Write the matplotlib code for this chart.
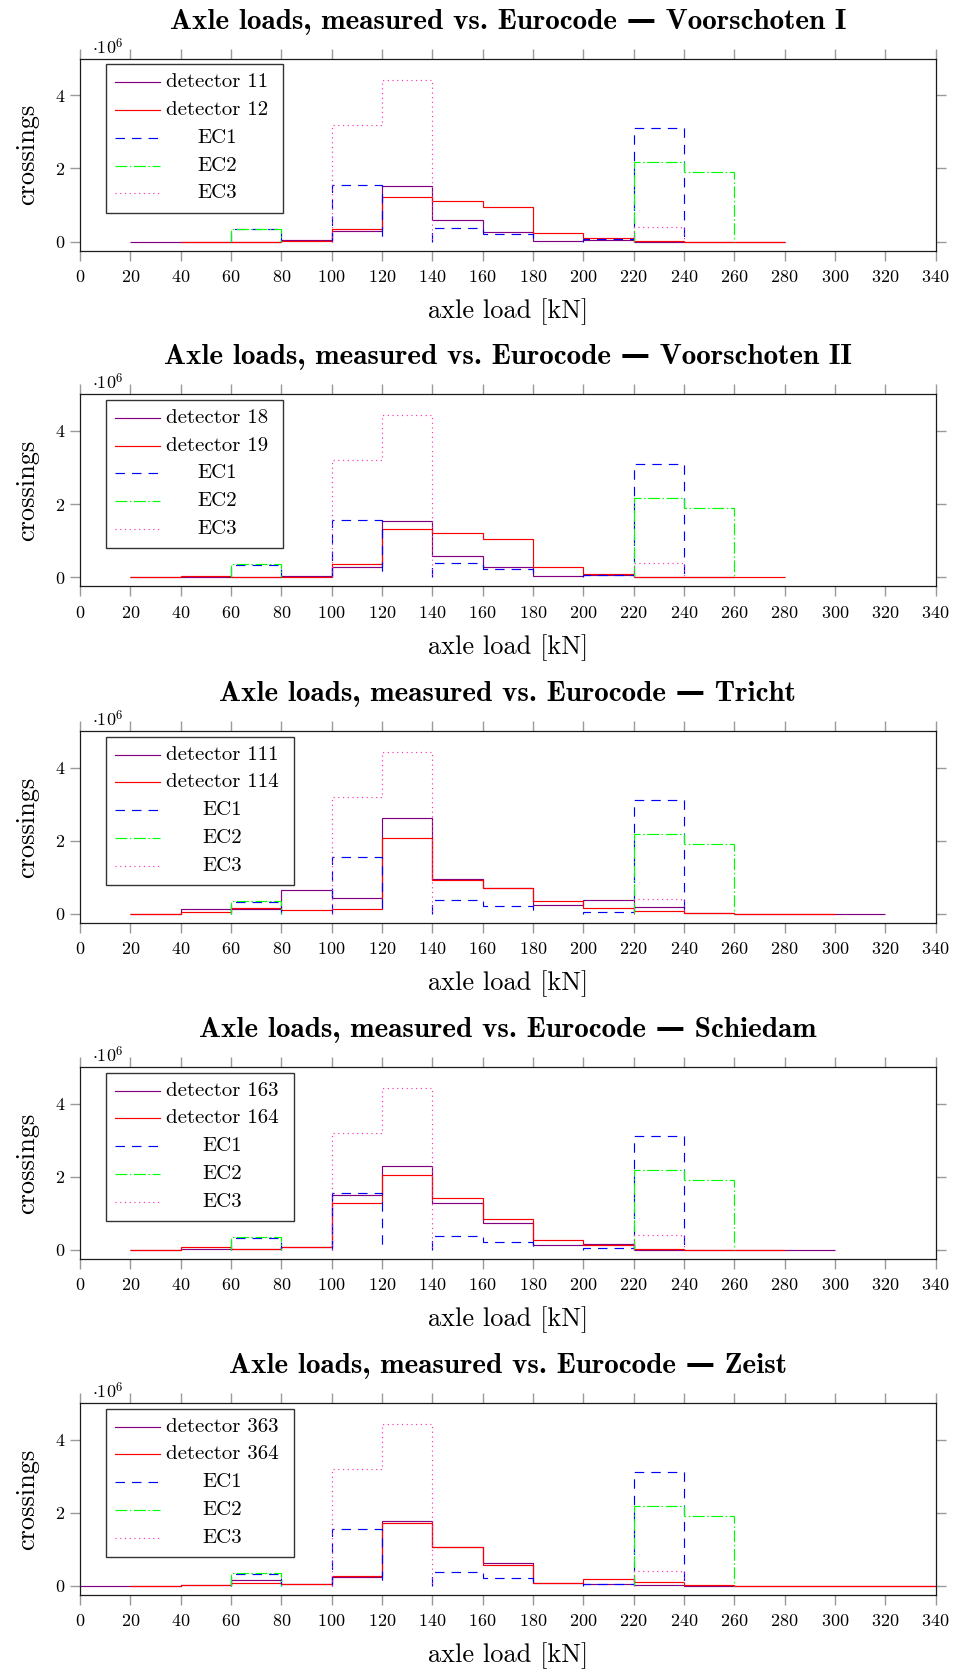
import numpy as np
import matplotlib
matplotlib.use("Agg")
import matplotlib.pyplot as plt
from matplotlib import transforms as mtransforms
from matplotlib.lines import Line2D
from matplotlib.patches import Rectangle

plt.rcParams["font.family"] = ["cmr10", "DejaVu Serif"]
plt.rcParams["mathtext.fontset"] = "cm"
plt.rcParams["axes.formatter.use_mathtext"] = True
plt.rcParams["axes.unicode_minus"] = False

# ---------------------------------------------------------------------------
# Data: crossings per 20 kN axle-load class, in units of 10^6
# ---------------------------------------------------------------------------
CLASS_WIDTH = 20  # kN

# Eurocode load spectra, classes 20-40 ... 240-260 kN
ec_start = 20
ec1 = [0, 0, 0.33, 0, 1.55, 0, 0.38, 0.22, 0, 0.06, 3.10, 0]
ec2 = [0, 0, 0.35, 0, 0, 0, 0, 0, 0, 0, 2.17, 1.90]
ec3 = [0, 0, 0, 0, 3.20, 4.43, 0, 0, 0, 0, 0.40, 0]

# Measured spectra, (first class lower bound in kN, counts)
site_names = ["Voorschoten I", "Voorschoten II", "Tricht", "Schiedam", "Zeist"]

det_labels_a = ["detector 11", "detector 18", "detector 111", "detector 163", "detector 363"]
det_labels_b = ["detector 12", "detector 19", "detector 114", "detector 164", "detector 364"]

det_start_a = [20, 20, 20, 20, 0]
det_start_b = [40, 20, 20, 20, 20]

voorschoten1_a = [0, 0, 0, 0.045, 0.29, 1.53, 0.58, 0.26, 0.02, 0.04, 0.0, 0.0, 0.0]
voorschoten1_b = [0, 0, 0.01, 0.34, 1.22, 1.11, 0.95, 0.23, 0.11, 0.01, 0, 0]
voorschoten2_a = [0, 0.01, 0, 0.04, 0.29, 1.54, 0.58, 0.27, 0.02, 0.05, 0.01, 0.0]
voorschoten2_b = [0, 0.04, 0.01, 0.01, 0.35, 1.33, 1.22, 1.05, 0.27, 0.08, 0.01, 0, 0]
tricht_a = [0, 0.12, 0.13, 0.64, 0.42, 2.61, 0.96, 0.72, 0.245, 0.38, 0.20, 0.02, 0, 0, 0]
tricht_b = [0, 0.06, 0.16, 0.10, 0.14, 2.07, 0.93, 0.72, 0.355, 0.17, 0.07, 0.01, 0, 0]
schiedam_a = [0, 0.03, 0.03, 0.08, 1.50, 2.29, 1.27, 0.74, 0.14, 0.17, 0.0, 0, 0, 0]
schiedam_b = [0, 0.08, 0.02, 0.08, 1.27, 2.05, 1.43, 0.84, 0.26, 0.13, 0.03, 0, 0]
zeist_a = [0, 0, 0.02, 0.17, 0.06, 0.23, 1.77, 1.05, 0.62, 0.07, 0.05, 0.02, 0, 0, 0, 0, 0]
zeist_b = [0, 0.03, 0.07, 0.06, 0.27, 1.73, 1.05, 0.58, 0.09, 0.19, 0.11, 0.01, 0, 0, 0, 0]

det_values_a = [voorschoten1_a, voorschoten2_a, tricht_a, schiedam_a, zeist_a]
det_values_b = [voorschoten1_b, voorschoten2_b, tricht_b, schiedam_b, zeist_b]

x_ticks = list(range(0, 341, 20))
y_ticks = [0, 2, 4]

# ---------------------------------------------------------------------------
# Styles
# ---------------------------------------------------------------------------
LW = 0.85
style_a = dict(color="#800080", lw=LW, linestyle="-")
style_b = dict(color="#ff0000", lw=LW, linestyle="-")
style_ec1 = dict(color="#0000ff", lw=LW, linestyle=(0, (8.0, 6.0)))
style_ec2 = dict(color="#00ff00", lw=LW, linestyle=(0, (10.0, 2.2, 1.3, 2.2)))
style_ec3 = dict(color="#ff33b3", lw=LW, linestyle=(0, (1.0, 3.0)))

SERIF = ["cmr10", "DejaVu Serif"]
SERIF_BOLD = ["cmb10", "DejaVu Serif"]

# Figure layout (pixels at 100 dpi)
FIG_W, FIG_H = 960, 1670
AX_LEFT, AX_RIGHT = 80.0, 935.7
AX_H = 192.0
AX_TOPS = [58.7, 394.3, 731.0, 1067.0, 1403.0]


def edges_from(start, n):
    return np.arange(n + 1) * CLASS_WIDTH + start


def draw_spectrum(ax, start, values, style):
    values = np.asarray(values, dtype=float)
    ax.stairs(values, edges_from(start, len(values)), baseline=None, **style)


def draw_code_spectrum(ax, start, values, style):
    """Draw each non-empty run of classes as a block dropping to zero."""
    values = np.asarray(values, dtype=float)
    edges = edges_from(start, len(values))
    nz = values != 0
    i = 0
    while i < len(values):
        if nz[i]:
            j = i
            while j < len(values) and nz[j]:
                j += 1
            ax.stairs(values[i:j], edges[i:j + 1], baseline=0, **style)
            i = j
        else:
            i += 1


def draw_key(ax, entries):
    """Boxed key in the upper-left corner; sizes in 1/100 inch from the axes' top-left."""
    fig = ax.figure
    unit = (mtransforms.Affine2D().scale(1 / 100.0) + fig.dpi_scale_trans
            + mtransforms.ScaledTranslation(0, 1, ax.transAxes))
    renderer = fig.canvas.get_renderer()
    row_y = [-23.6 - 27.75 * k for k in range(len(entries))]
    texts = []
    for (label, style), y in zip(entries, row_y):
        ax.add_line(Line2D([35, 80], [y, y], transform=unit, clip_on=False,
                           zorder=6, **style))
        t = ax.text(0, y, label, transform=unit, ha="center", va="center",
                    fontsize=15, family=SERIF, zorder=6)
        texts.append(t)
    maxw = max(t.get_window_extent(renderer).width for t in texts) * 100.0 / fig.dpi
    text_left = 86.0
    for t in texts:
        t.set_x(text_left + maxw / 2)
    box_w = text_left + maxw + 15.0 - 26.0
    ax.add_patch(Rectangle((26.0, -5.6 - 148.4), box_w, 148.4, transform=unit,
                           facecolor="white", edgecolor="#333333", lw=1.0,
                           zorder=5, clip_on=False))


fig = plt.figure(figsize=(FIG_W / 100, FIG_H / 100), dpi=100)

for k, site in enumerate(site_names):
    top = AX_TOPS[k]
    ax = fig.add_axes([AX_LEFT / FIG_W, 1 - (top + AX_H) / FIG_H,
                       (AX_RIGHT - AX_LEFT) / FIG_W, AX_H / FIG_H])

    draw_spectrum(ax, det_start_a[k], det_values_a[k], style_a)
    draw_spectrum(ax, det_start_b[k], det_values_b[k], style_b)
    draw_code_spectrum(ax, ec_start, ec1, style_ec1)
    draw_code_spectrum(ax, ec_start, ec2, style_ec2)
    draw_code_spectrum(ax, ec_start, ec3, style_ec3)

    ax.set_xlim(0, 340)
    ax.set_ylim(-0.25, 5)
    ax.set_xticks(x_ticks)
    ax.set_yticks(y_ticks)
    ax.tick_params(direction="out", length=7.2, width=1.0, color="#9a9a9a",
                   top=True, right=True, labelsize=13)
    ax.tick_params(axis="x", pad=6.0)
    ax.tick_params(axis="y", pad=3.5)
    for lab in ax.get_xticklabels() + ax.get_yticklabels():
        lab.set_family(SERIF)
    for sp in ax.spines.values():
        sp.set_linewidth(0.9)
        sp.set_color("#1a1a1a")

    ax.set_xlabel("axle load [kN]", fontsize=19, family=SERIF, labelpad=9.5)
    ax.set_ylabel("crossings", fontsize=19, family=SERIF, labelpad=11)
    ax.set_title("Axle loads, measured vs. Eurocode \u2014 " + site,
                 fontsize=21, family=SERIF_BOLD, fontweight="bold",
                 y=1.0, pad=21.5)
    ax.annotate(r"$\cdot 10^{6}$", xy=(0, 1), xycoords="axes fraction",
                xytext=(9.0, 8.6), textcoords="offset points",
                ha="left", va="center", fontsize=13)

    draw_key(ax, [(det_labels_a[k], style_a), (det_labels_b[k], style_b),
                  ("EC1", style_ec1), ("EC2", style_ec2), ("EC3", style_ec3)])

fig.savefig("out.png", dpi=100)
